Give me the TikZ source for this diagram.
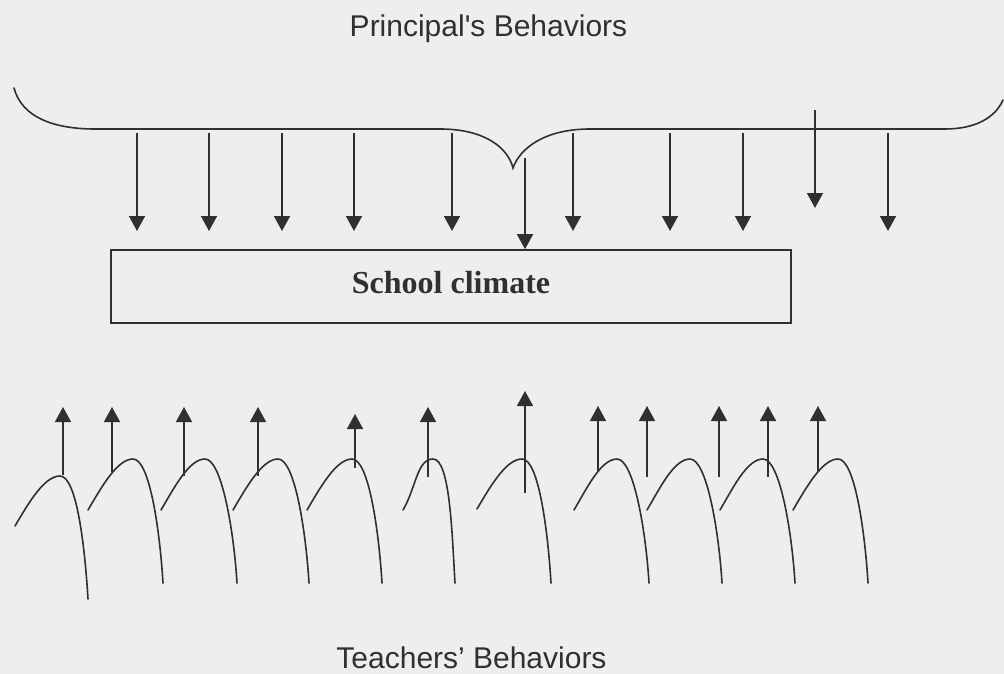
\documentclass[tikz,border=0pt]{standalone}
\usepackage{fontspec}
\setmainfont{Liberation Serif}
\newfontfamily\arialf{Liberation Sans}
\usetikzlibrary{arrows.meta}
\definecolor{bg}{RGB}{238,238,236}
\definecolor{ink}{RGB}{48,48,52}
\begin{document}
\begin{tikzpicture}[x=1pt,y=-1pt,
  arr/.style={draw=ink, line width=1.6pt, -{Triangle[width=16pt,length=15pt]}},
  curve/.style={draw=ink, line width=1.6pt, line cap=round},
  title/.style={font=\arialf\fontsize{30}{36}\selectfont, text=ink, anchor=base, inner sep=0pt},
  boxstyle/.style={draw=ink, line width=1.6pt, minimum width=680pt, minimum height=73pt, inner sep=0pt,
     text height=22pt, text depth=9pt, font=\bfseries\fontsize{32}{38}\selectfont, text=ink}]
\fill[bg] (0,0) rectangle (1004,674);
\useasboundingbox (0,0) rectangle (1004,674);

% titles
\node[title] (principal) at (488.5,37) {Principal\textquotesingle s Behaviors};
\node[title] (teachers) at (471.5,668) {Teachers’ Behaviors};

% brace
\draw[curve] (14,88) .. controls (22,118) and (55,129) .. (95,129) -- (440,129)
  .. controls (485,129) and (508,148) .. (513,168)
  .. controls (520,148) and (545,129) .. (590,129) -- (945,129)
  .. controls (975,129) and (995,118) .. (1003,100);

% box
\node[boxstyle] (climate) at (451,286.5) {School climate};

% down arrows
\foreach \x [count=\i] in {137,209,282,354,452,573,670,743,888} {
  \coordinate (ds\i) at (\x,133);
  \coordinate (de\i) at (\x,231);
  \draw[arr] (ds\i) -- (de\i);
}
\coordinate (dxs) at (815,110);
\coordinate (dxe) at (815,208);
\draw[arr] (dxs) -- (dxe);
\coordinate (dc) at (525,158);
\draw[arr] (dc) -- (dc |- climate.north);

% teachers
\foreach \sx/\sy/\px/\py/\ex/\ey in {15/526/60/476/88/599, 88/510/133/459/163/583,
  161/510/205/459/237/583, 233/510/278/459/309/583, 307/510/352/459/382/583,
  403/510/433/459/455/583, 477/509/522/459/551/583, 574/510/617/459/649/583,
  647/510/690/459/722/583, 720/510/763/459/795/583, 793/510/838/459/868/583} {
  \draw[curve] (\sx,\sy) .. controls ({\sx+13},{\sy-22}) and ({\px-16},\py) .. (\px,\py)
    .. controls ({\px+17},\py) and ({\ex-3},{\ey-50}) .. (\ex,\ey);
}

% up arrows
\foreach \x/\yb/\yt [count=\i] in {63/475/407, 112/472/407, 184/476/407, 258/476/407,
  355/468/414, 428/477/407, 525/493/391, 598/472/406, 647/477/406, 719/477/406,
  768/477/406, 818/472/406} {
  \coordinate (us\i) at (\x,\yb);
  \coordinate (ue\i) at (\x,\yt);
  \draw[arr] (us\i) -- (ue\i);
}
\end{tikzpicture}
\end{document}
